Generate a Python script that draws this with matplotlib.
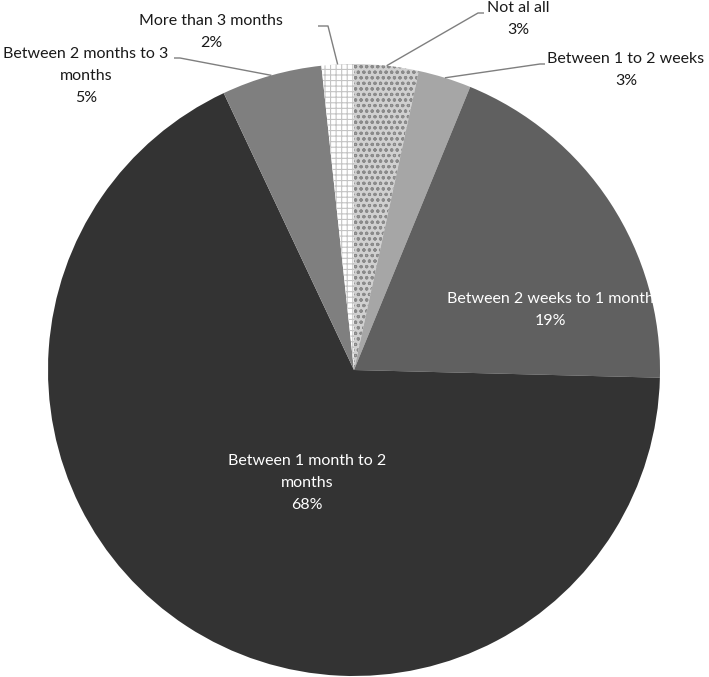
import numpy as np
import matplotlib
matplotlib.use("Agg")
import matplotlib.pyplot as plt

categories = ["Not al all", "Between 1 to 2 weeks", "Between 2 weeks to 1 month",
              "Between 1 month to 2 months", "Between 2 months to 3 months", "More than 3 months"]
values = [3.4, 2.8, 19.2, 67.6, 5.3, 1.7]
label_texts = ["Not al all", "Between 1 to 2 weeks", "Between 2 weeks to 1 month",
               "Between 1 month to 2\nmonths", "Between 2 months to 3\nmonths", "More than 3 months"]
pct_texts = ["3%", "3%", "19%", "68%", "5%", "2%"]

colors = ["#d0d0d0", "#a6a6a6", "#606060", "#333333", "#7f7f7f", "#ffffff"]
hatches = ["ooo", None, None, None, None, "+++"]
hatch_colors = ["#8a8a8a", "#a6a6a6", "#606060", "#333333", "#7f7f7f", "#c4c4c4"]

W, H = 709, 677
fig = plt.figure(figsize=(W / 100, H / 100), dpi=100)
ax = fig.add_axes([0, 0, 1, 1])

cx, cy, R = 354, H - 370, 306
plt.rcParams["hatch.linewidth"] = 0.8
wedges, _ = ax.pie(values, colors=colors, startangle=90, counterclock=False,
                   center=(cx, cy), radius=R, frame=True,
                   wedgeprops=dict(linewidth=0))
ax.set_xlim(0, W)
ax.set_ylim(0, H)
ax.set_aspect("equal")
ax.axis("off")
for w, h, hc in zip(wedges, hatches, hatch_colors):
    if h:
        w.set_hatch(h)
        w.set_edgecolor(hc)
        w.set_linewidth(0)

font = dict(family="Lato", fontsize=11.5)

# outside labels: (text block center, elbow, end) in pixel coords from top-left
outside = {
    0: ((518, 19), (478, 13), (484, 13)),
    1: ((626, 70), (540, 64), (545, 64)),
    4: ((86, 76), (180, 58), (174, 58)),
    5: ((211, 32), (328, 26), (318, 26)),
}
inside = {2: (550, 310), 3: (307, 483)}

for i, w in enumerate(wedges):
    mid = np.deg2rad((w.theta1 + w.theta2) / 2)
    if i in outside:
        (tx, ty), elbow, end = outside[i]
        px, py = cx + R * np.cos(mid), cy + R * np.sin(mid)
        ax.plot([px, elbow[0], end[0]], [py, H - elbow[1], H - end[1]],
                color="#7f7f7f", lw=1, solid_capstyle="butt")
        ax.text(tx, H - ty, label_texts[i] + "\n" + pct_texts[i], ha="center", va="center",
                color="#1a1a1a", linespacing=1.7, **font)
    else:
        tx, ty = inside[i]
        ax.text(tx, H - ty, label_texts[i] + "\n" + pct_texts[i], ha="center", va="center",
                color="white", linespacing=1.7, **font)

fig.savefig("out.png", dpi=100)
